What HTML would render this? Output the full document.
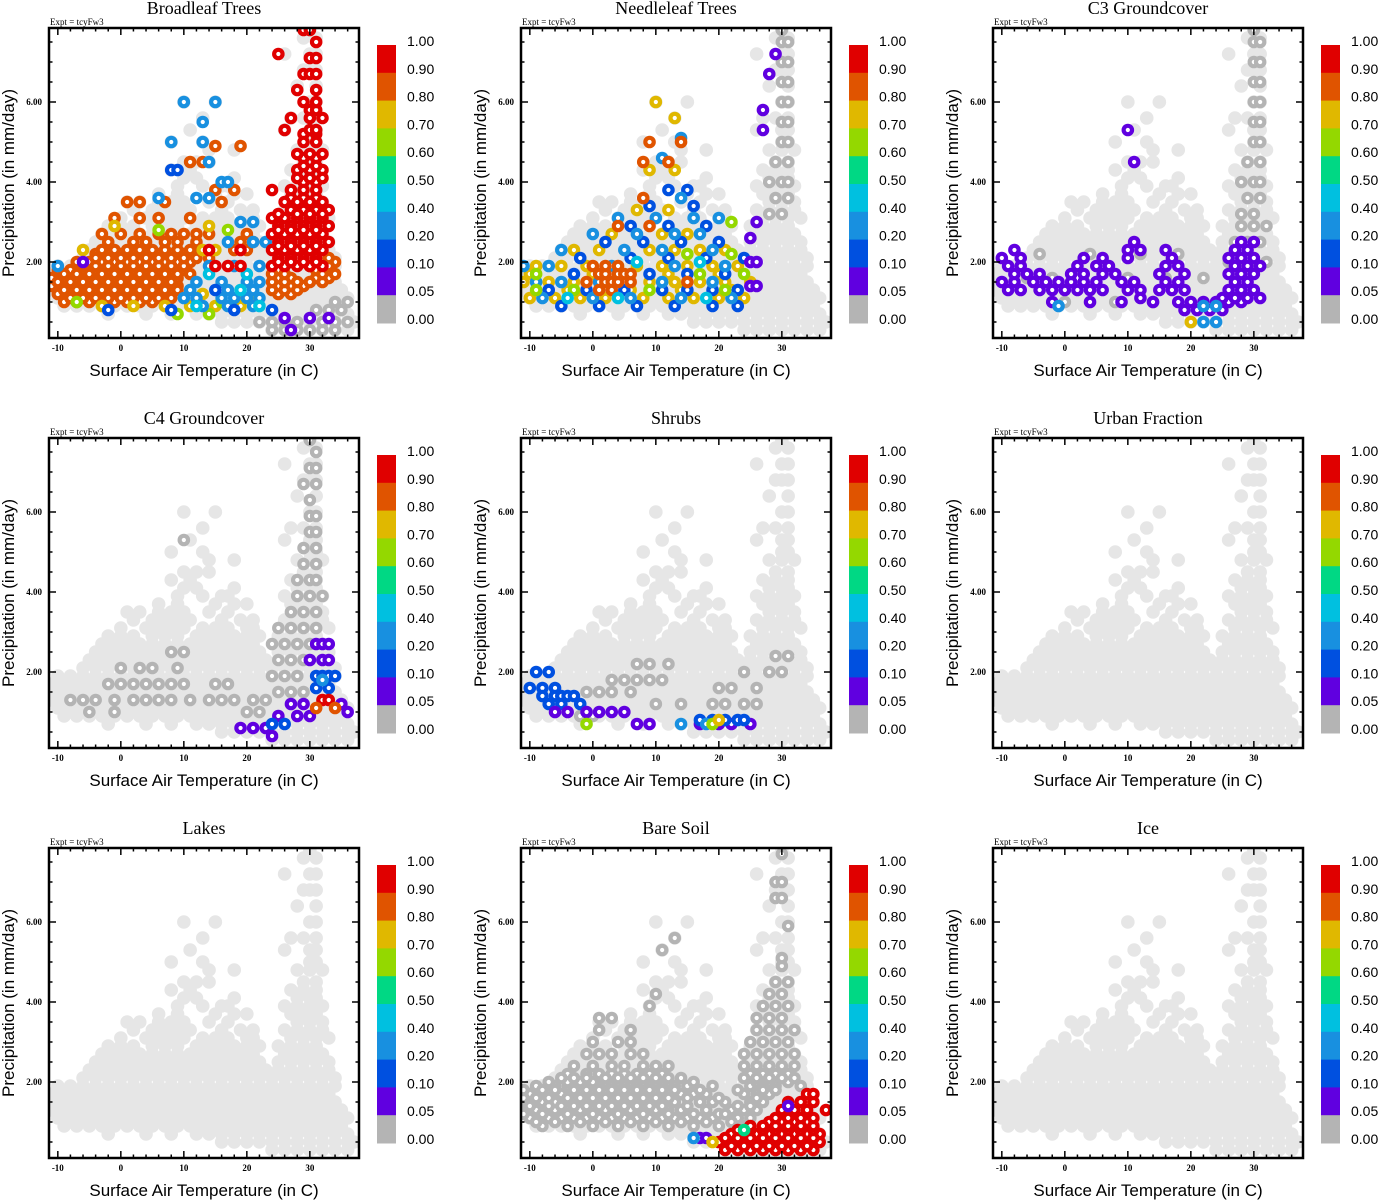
<!DOCTYPE html>
<html><head><meta charset="utf-8"><style>
body{margin:0;background:#fff;}
svg{display:block;}
</style></head><body>
<svg id="fig" width="1378" height="1200" viewBox="0 0 1378 1200" xmlns="http://www.w3.org/2000/svg"></svg>
<script>
// ---- data ----
const xTicks = [-10,0,10,20,30];
const yTicks = [2,4,6];
const cbLabels = ["1.00","0.90","0.80","0.70","0.60","0.50","0.40","0.20","0.10","0.05","0.00"];
const cbColors = ["#e00000","#e05400","#e0b800","#94d800","#00d884","#00c0e0","#1890e0","#0050e0","#6000e0","#b4b4b4"];
const titles = ["Broadleaf Trees","Needleleaf Trees","C3 Groundcover","C4 Groundcover","Shrubs","Urban Fraction","Lakes","Bare Soil","Ice"];
// base cloud rows: [P, T...]
const cloud = [
[0.3,24,26,28,30,32,34,36],[0.5,16,18,20,22,24,26,28,30,32,34,36,37],
[0.7,-2,4,8,12,14,16,18,20,22,24,26,28,30,32,34,36],
[0.9,-9,-7,-5,-3,-1,1,3,5,7,9,11,13,15,17,19,21,23,25,27,29,31,33,35],
[1.1,-10,-8,-6,-4,-2,0,2,4,6,8,10,12,14,16,18,20,22,24,26,28,30,32,34,36],
[1.3,-11,-9,-7,-5,-3,-1,1,3,5,7,9,11,13,15,17,19,21,23,25,27,29,31,33,35],
[1.5,-11,-10,-8,-6,-4,-2,0,2,4,6,8,10,12,14,16,18,20,22,24,26,28,30,32,34],
[1.7,-11,-9,-7,-5,-3,-1,1,3,5,7,9,11,13,15,17,19,21,23,25,27,29,31,33],
[1.9,-10,-8,-6,-4,-2,0,2,4,6,8,10,12,14,16,18,20,22,24,26,28,30,32,34],
[2.1,-6,-4,-2,0,2,4,6,8,10,12,14,16,18,20,22,24,26,28,30,32,34],
[2.3,-5,-3,-1,1,3,5,7,9,11,13,15,17,19,21,23,25,27,29,31,33],
[2.5,-4,-2,0,2,4,6,8,10,12,14,16,18,20,22,25,27,29,31,33],
[2.7,-3,-1,1,3,5,7,9,11,13,15,17,19,21,26,28,30,32],
[2.9,-2,0,2,5,7,9,12,14,16,18,20,22,25,27,29,31],
[3.1,0,4,6,8,10,13,15,17,20,21,27,29,31,33],
[3.3,2,5,7,9,11,16,19,21,26,28,30,32],[3.5,1,3,6,8,10,14,17,28,30,32],
[3.7,6,9,15,18,20,27,29,31],[3.9,9,13,16,17,26,28,30,32],[4.1,10,12,18,28,30,31],
[4.3,8,11,27,29,31],[4.5,10,12,14,29,31],[4.8,14,18,28,30,32],[5.0,8,13,30,31],
[5.3,11,26,30,31],[5.6,13,27,29,31],[6.0,10,15,30,31],[6.4,28,31],[6.8,29,30,31],
[7.2,26,30,31],[7.6,29,31],[7.8,30]
];
// panel rows: [fraction, P, T...]
const broadleaf = [
[0,0.3,24,26,28,30,32,34],[0,0.5,22,24,26,28,32,34,36],[0,0.8,31,33,35],[0,1.0,34,36],
[0.85,1.0,-9,-7,-5,-3,-1,1,3,5,7],[0.85,1.2,-10,-8,-6,-4,-2,0,2,4,6,8,25,27],
[0.85,1.4,-11,-9,-7,-5,-3,-1,1,3,5,7,9,25,27,29],[0.85,1.6,-11,-9,-7,-5,-3,-1,1,3,5,7,9,25,27,31,33],
[0.85,1.8,-10,-8,-6,-4,-2,0,2,4,6,8,10,25,31,33],[0.85,2.0,-7,-5,-3,-1,1,3,5,7,9,11,34],
[0.85,2.2,-4,-2,0,2,4,6,8,10,12],
[0.85,1.1,-8,-6,-4,-2,0,2,4,6,8],[0.85,1.3,-9,-7,-5,-3,-1,1,3,5,7,9,24,26,28],
[0.85,1.5,-10,-8,-6,-4,-2,0,2,4,6,8,24,26,28,30,32],[0.85,1.7,-9,-7,-5,-3,-1,1,3,5,7,9,11,24,26,32,34],
[0.85,1.9,-6,-4,-2,0,2,4,6,8,10,24,30,33],[0.85,2.1,-4,-2,0,2,4,6,8,10,12,14,33],
[0.85,2.3,-3,-1,1,3,5,7,9,11,18,20],[0.85,2.5,-2,2,4,7,9,12,19,21],[0.85,2.7,-3,0,3,6,8,10,12,14,20],
[0.85,3.1,-1,3,6,11],[0.85,3.5,1,3,7,16],[0.85,4.5,11,13],[0.85,4.9,15,19],[0.85,3.8,15,18],
[0.75,0.9,-3,2,7,11,15,19],[0.75,2.3,-6,13,15],[0.75,2.9,-1,14],[0.75,1.2,13,19,21],
[0.65,0.7,9,14],[0.65,1.0,-7,16],[0.65,2.8,6,17],
[0.3,1.1,10,12,16,18,20,22],[0.3,1.5,12,16,20,22],[0.3,1.9,-10,14,18,22],[0.3,2.5,17,21,23],[0.3,3.0,19,21],
[0.3,3.6,6,12,14],[0.3,4.5,14],[0.3,5.0,8,13],[0.3,6.0,10,15],[0.3,5.5,13],[0.3,4.0,16,17],
[0.3,1.3,11,17,21],[0.3,0.9,13,17,21],[0.45,1.3,19],
[0.1,0.8,-2,8,18,24],[0.1,4.3,8,9],[0.1,1.3,15],[0.45,0.9,12,22],[0.45,1.7,14,20],
[0.95,1.9,24,26,28,30,32],[0.95,2.1,25,27,29,31],[0.95,2.3,24,26,28,30,32],[0.95,2.5,25,27,29,31,33],
[0.95,2.7,24,26,28,30,32],[0.95,2.9,25,27,29,31,33],[0.95,3.1,24,26,28,30,32],[0.95,3.3,27,29,31,33],
[0.95,2.0,25,27,29,31],[0.95,2.4,25,27,29,31],[0.95,2.8,25,27,29,31],[0.95,3.2,25,28,30,32],
[0.95,3.6,27,29,31],[0.95,4.0,29,31],[0.95,4.3,28,30,32],[0.95,4.6,29,31],[0.95,5.2,29,31],[0.95,5.8,30,31],
[0.95,3.5,26,28,30,32],[0.95,3.8,24,27,29,31],[0.95,4.1,28,30,32],[0.95,4.4,29,31],[0.95,4.7,28,30,32],
[0.95,5.0,29,31],[0.95,5.3,26,30,31],[0.95,5.6,27,30,32],[0.95,6.0,29,31],[0.95,6.3,28,31],
[0.95,6.7,29,30,31],[0.95,7.1,30,31],[0.95,7.2,25],[0.95,7.5,31],[0.95,7.8,29,30],
[0.95,1.9,15,17,19],[0.95,2.3,14,19],
[0.07,0.6,26,30,33],[0.07,0.3,27],[0.07,2.0,-6]
];
const needleleaf = [
[0,3.2,28,30],[0,3.6,29,31],[0,4.0,28,30,31],[0,4.5,29,31],[0,5.0,30,31],[0,5.5,30,31],[0,6.0,30,31],[0,6.5,30,31],[0,7.0,30,31],[0,7.5,30,31],[0,7.8,30],
[0.75,1.1,-10,-6,-2,2,8,12,16,20,24],[0.75,1.5,-11,-7,-3,5,9,13,17,21,25],[0.75,1.9,-9,-5,-1,7,11,15,19,23],
[0.75,2.3,-3,1,9,13,17,21],[0.75,2.7,3,11,15],[0.75,3.3,7,12],[0.75,4.3,9,13],[0.75,6.0,10],[0.75,5.6,13],
[0.75,1.3,-4,6,14,22],[0.75,1.7,-10,0,12,20],
[0.1,0.9,-5,1,7,13,19,23],[0.1,1.3,-7,-1,5,11,15,19,23],[0.1,1.7,-3,3,9,15,21],[0.1,2.1,-2,6,12,18,24],
[0.1,2.5,2,8,14,20],[0.1,2.9,6,12,18],[0.1,3.4,9,16],[0.1,3.8,12,15],
[0.3,1.1,-8,0,6,14,22],[0.3,1.5,-9,-5,1,11,19],[0.3,1.9,-11,-7,3,13,21],[0.3,2.3,-5,5,11,19],
[0.3,2.7,0,7,13,17],[0.3,3.1,4,10,16,20],[0.3,3.6,14],[0.3,4.6,11],[0.3,5.1,14],
[0.85,1.5,-1,2,3,4,6,15],[0.85,1.7,1,2,4,5,6],[0.85,1.3,1,3],[0.85,1.9,0,2,4],
[0.85,2.9,4,9],[0.85,3.6,8],[0.85,4.5,8,12],[0.85,5.0,9,14],
[0.65,1.3,-9,-3,9,21],[0.65,1.7,-9,17,24],[0.65,2.2,15,22],[0.65,3.0,22],
[0.45,1.1,-4,4,18],[0.45,2.0,7,17],
[0.07,1.4,25,26],[0.07,2.0,25,26],[0.07,2.6,25],[0.07,3.0,26],[0.07,5.8,27],[0.07,6.7,28],[0.07,7.2,29],[0.07,5.3,27]
];
const c3 = [
[0,2.0,26,28,30,32],[0,2.5,27,29,31],[0,2.9,28,30,32],[0,3.2,28,30],[0,3.6,29,31],[0,4.0,28,30,31],
[0,4.5,29,31],[0,5.0,30,31],[0,5.5,30,31],[0,6.0,30,31],[0,6.5,30,31],[0,7.0,30,31],[0,7.5,30,31],[0,7.8,30],
[0,1.6,-6,-2,2,10,16,22],[0,2.2,-4,4,12,18],[0,1.0,0,8,14,26],
[0.07,1.3,-9,-7,-4,-2,0,2,4,6,10,12,15,17,19],[0.07,1.5,-10,-8,-5,-3,-1,1,3,5,9,11,16,18,27,29],
[0.07,1.7,-8,-6,-4,1,3,6,8,15,19,26,28,30],[0.07,1.9,-9,-7,2,5,7,16,18,27,29,31],
[0.07,2.1,-10,-7,3,6,10,17,26,28,30],[0.07,2.3,-8,10,12,16,27,29],[0.07,2.5,11,28,30],
[0.07,1.0,-2,4,9,14,18,20,22,24,26,28],[0.07,0.8,19,21,23,25],[0.07,1.1,12,25,27,29,31],
[0.07,1.3,26,28,30],[0.07,4.5,11],[0.07,5.3,10],
[0.3,0.9,-1,22,24],[0.75,0.5,20],[0.3,0.5,22,24]
];
const c4 = [
[0,1.3,-8,-6,-4,-1,2,4,6,8,11,14,16,18,21,23],[0,1.7,-2,0,2,4,6,8,10,15,17],[0,2.1,0,3,5,9],[0,2.5,8,10],[0,1.0,-5,-1,20,22],
[0,1.5,25,27,29],[0,1.9,24,26,28],[0,2.3,25,27,29],[0,2.7,24,26,28,30],[0,3.1,25,27,29,31],[0,3.5,27,29,31],
[0,3.9,28,30,32],[0,4.3,28,30,31],[0,4.7,29,31],[0,5.1,29,31],[0,5.5,30,31],[0,5.9,30,31],[0,6.3,30],
[0,6.7,29,31],[0,7.1,30,31],[0,7.5,31],[0,7.8,30],[0,5.3,10],
[0.07,2.7,31,32,33],[0.07,2.3,30,32,33],[0.1,1.9,31,32,33,34],[0.1,1.6,31,33],[0.2,1.8,32],
[0.07,1.2,27,29,35],[0.07,0.9,25,28,30],[0.07,0.6,19,21,23],[0.1,0.7,24,26],
[0.9,1.3,32,33],[0.85,1.1,31,34],[0.07,0.4,24],[0.07,1.0,36]
];
const shrubs = [
[0,1.5,-1,1,3,6],[0,1.8,3,5,7,9,11],[0,2.2,7,9,12],[0,1.2,10,14,19,21,24,26],[0,1.6,20,22,26],
[0,2.0,24,28,30],[0,2.4,29,31],[0,0.9,-2,0],
[0.1,2.0,-7,-9],[0.1,1.6,-10,-8,-6],[0.1,1.4,-8,-6,-5,-4,-3],[0.1,1.2,-7,-5,-2],
[0.07,1.0,-6,-4,-1,1,3,5],[0.07,0.7,7,9,17,20,22,25],[0.1,0.8,17,19,21,23,24],
[0.3,0.7,14,18],[0.65,0.7,-1,19],[0.75,0.8,20]
];
const urban = [];
const lakes = [];
const baresoil = [
[0,0.9,-8,-4,0,4,8,12,16,20,24],[0,1.1,-10,-7,-5,-3,-1,1,3,5,7,9,11,13,15,17,19,23,25],
[0,1.3,-11,-9,-6,-4,-2,0,2,4,6,8,10,12,14,18,22,24,26],[0,1.5,-11,-8,-6,-3,-1,1,3,5,7,9,11,13,17,19,21,25,27],
[0,1.7,-10,-7,-5,-2,0,2,4,6,8,10,12,14,16,18,24,26,28],[0,1.9,-9,-6,-4,-1,1,3,5,7,9,11,13,15,19,25,27,29,33],
[0,1.0,-9,-6,-2,2,6,10,14,18,22],[0,1.2,-11,-8,-4,0,4,8,12,16,20,21],[0,1.4,-10,-7,-5,-3,-1,1,3,5,7,9,11,15,23,25],
[0,1.6,-11,-9,-7,-4,-2,0,2,4,6,8,10,12,15,20,26],[0,1.8,-11,-8,-6,-3,-1,1,3,5,7,9,11,13,17,23,27,29],
[0,2.0,-7,-4,-2,0,2,4,6,8,10,12,16,26,28,31],[0,2.2,-4,-1,1,3,5,7,9,11,25,27,29,31],
[0,2.1,-5,-3,-1,2,4,6,8,10,12,14,24,26,28,30,32],[0,2.4,-3,0,3,5,8,10,12,24,26,28,30,32],
[0,2.7,-1,1,3,6,8,24,26,28,30,32],[0,3.0,0,4,6,25,27,29,31],[0,3.3,1,6,26,28,30,32],[0,3.6,1,3,26,28,30],
[0,3.9,9,27,29,31],[0,4.2,10,28,30],[0,4.5,29,31],[0,4.9,30],[0,5.1,30],[0,5.3,11],[0,5.6,13],[0,5.9,31],
[0,6.6,29,30],[0,7.0,29,30],[0,7.7,30],
[0.95,0.3,21,23,25,27,29,31,33,35],[0.95,0.5,20,22,24,26,28,30,32,34,36],[0.95,0.7,22,24,26,28,30,32,34,36],
[0.95,0.4,22,24,26,28,30,32,34],[0.95,0.6,21,23,25,27,29,31,33,35],[0.95,0.8,23,25,27,29,31,33,35],[0.95,1.0,28,30,32,34],
[0.95,0.9,25,27,29,31,33,35],[0.95,1.1,29,31,33,35],[0.95,1.3,30,32,34,37],[0.95,1.5,31,33,35],[0.95,1.7,34,35],
[0.07,0.6,17,18],[0.3,0.6,16],[0.07,1.4,31],[0.75,0.5,19],[0.5,0.8,24]
];
const ice = [];
const panelData = [broadleaf,needleleaf,c3,c4,shrubs,urban,lakes,baresoil,ice];

// ---- drawing ----
const NS="http://www.w3.org/2000/svg";
const fig=document.getElementById('fig');
function mk(tag,attrs,parent){const e=document.createElementNS(NS,tag);for(const k in attrs)e.setAttribute(k,attrs[k]);(parent||fig).appendChild(e);return e;}
const W=310,H=310,XMIN=-11.4,XMAX=37.8,YMIN=0.1,YMAX=7.85;
function colorFor(f){
  if(f<=0) return "#b4b4b4";
  const bounds=[0.05,0.1,0.2,0.4,0.5,0.6,0.7,0.8,0.9,1.01];
  const cols=["#6000e0","#0050e0","#1890e0","#00c0e0","#00d884","#94d800","#e0b800","#e05400","#e00000","#e00000"];
  for(let i=0;i<bounds.length;i++){ if(f<bounds[i]) return cols[Math.max(0,i-1)] }
  return "#e00000";
}
titles.forEach((title,pi)=>{
  const col=pi%3,row=Math.floor(pi/3);
  const ox=49+col*472, oy=28+row*410;
  const sx=t=>ox+(t-XMIN)/(XMAX-XMIN)*W;
  const sy=p=>oy+H-(p-YMIN)/(YMAX-YMIN)*H;
  const g=mk('g',{});
  
  
  const t=mk('text',{x:ox+155,y:oy-14,'text-anchor':'middle','font-family':'Liberation Serif, serif','font-size':18},g);
  t.textContent=title;
  
  
  const ex=mk('text',{x:ox+1,y:oy-3,'font-family':'Liberation Serif, serif','font-size':9},g);
  ex.textContent="Expt = tcyFw3";
  
  
  const cpath=mk('clipPath',{id:'clip'+pi},g);
  mk('rect',{x:ox,y:oy,width:W,height:H},cpath);
  const pts=mk('g',{'clip-path':'url(#clip'+pi+')'},g);
  
  
  cloud.forEach(r=>{for(let i=1;i<r.length;i++){const c=mk('circle',{cx:sx(r[i]),cy:sy(r[0]),r:6.8,fill:'#e6e6e6'},pts);}});
  panelData[pi].forEach(r=>{for(let i=2;i<r.length;i++){const c=mk('circle',{cx:sx(r[i]),cy:sy(r[1]),r:4.2,fill:'#fff',stroke:colorFor(r[0]),'stroke-width':4.2},pts);}});
  const fr=mk('rect',{x:ox,y:oy,width:W,height:H,fill:'none',stroke:'#000','stroke-width':2.5},g);
  
  
  for(let v=-10;v<=36;v+=2){const x=sx(v),L=(v%10===0)?7:3.5;mk('line',{x1:x,x2:x,y1:oy+H,y2:oy+H-L,stroke:'#000','stroke-width':1.5},g);mk('line',{x1:x,x2:x,y1:oy,y2:oy+L,stroke:'#000','stroke-width':1.5},g);}
  for(let v=0.5;v<=7.5;v+=0.5){const y=sy(v),L=(v%2===0)?7:3.5;mk('line',{x1:ox,x2:ox+L,y1:y,y2:y,stroke:'#000','stroke-width':1.5},g);mk('line',{x1:ox+W,x2:ox+W-L,y1:y,y2:y,stroke:'#000','stroke-width':1.5},g);}
  xTicks.forEach(v=>{const e=mk('text',{x:sx(v),y:oy+H+13,'text-anchor':'middle','font-family':'Liberation Serif, serif','font-size':9,'font-weight':'bold'},g);e.textContent=String(v);});
  yTicks.forEach(v=>{const e=mk('text',{x:ox-7,y:sy(v)+3,'text-anchor':'end','font-family':'Liberation Serif, serif','font-size':9,'font-weight':'bold'},g);e.textContent=v.toFixed(2);});
  const xt=mk('text',{x:ox+155,y:oy+H+38,'text-anchor':'middle','font-family':'Liberation Sans, sans-serif','font-size':17},g);
  xt.textContent="Surface Air Temperature (in C)";
  
  
  const yt=mk('text',{x:0,y:0,'text-anchor':'middle','font-family':'Liberation Sans, sans-serif','font-size':17,transform:`translate(${ox-35},${oy+155}) rotate(-90)`},g);
  yt.textContent="Precipitation (in mm/day)";
  
  
  const cbx=ox+328,cby=oy+17,seg=27.8;
  cbColors.forEach((c,i)=>{const r=mk('rect',{x:cbx,y:cby+i*seg,width:19,height:seg+0.5,fill:c},g);});
  cbLabels.forEach((l,i)=>{const e=mk('text',{x:cbx+30,y:cby+i*seg+1,'font-family':'Liberation Sans, sans-serif','font-size':14},g);e.textContent=l;});
});
</script>
</body></html>
